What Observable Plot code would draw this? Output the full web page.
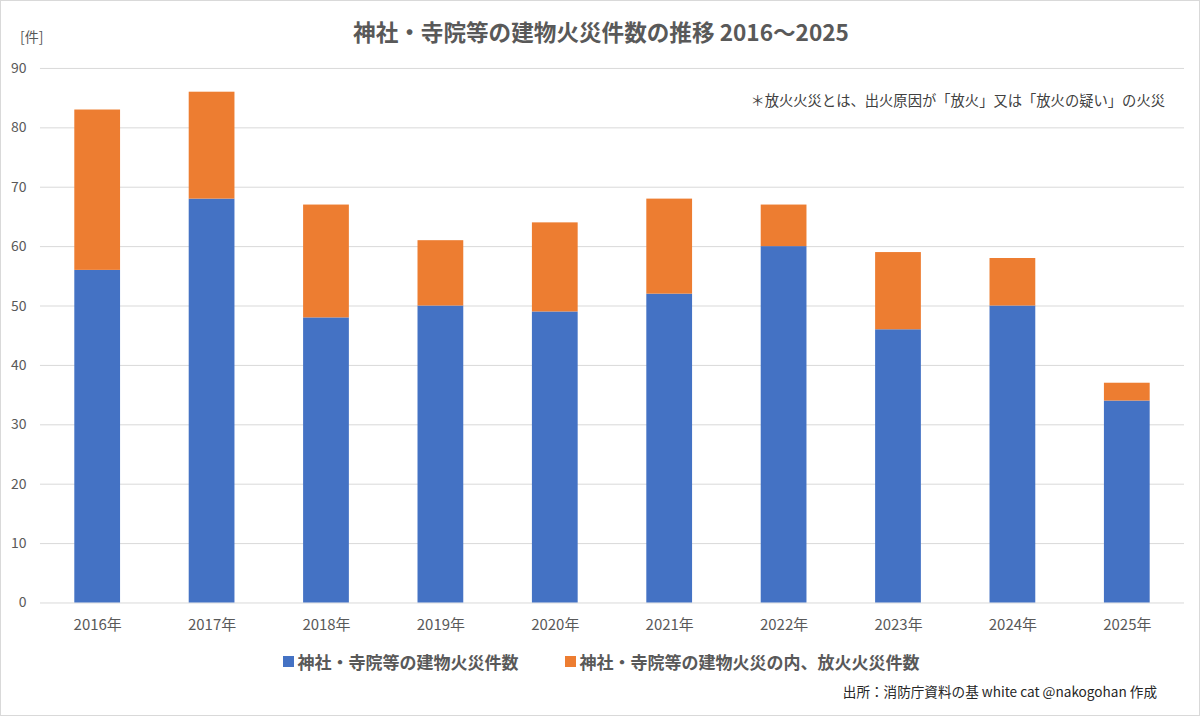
<!DOCTYPE html>
<html>
<head>
<meta charset="utf-8">
<script src="https://cdn.jsdelivr.net/npm/d3@7"></script>
<script src="https://cdn.jsdelivr.net/npm/@observablehq/plot@0.6"></script>
<style>
  html, body { margin: 0; padding: 0; background: #fff; }
  body { font-family: "Noto Sans CJK JP", "Noto Sans", sans-serif; }
  #wrap { position: relative; width: 1200px; height: 716px; box-sizing: border-box; border: 1px solid #d9d9d9; overflow: hidden; }
  #chart { position: absolute; left: -1px; top: -1px; }
  .abs { position: absolute; white-space: nowrap; }
  #title { left: 0; width: 1200px; top: 14px; text-align: center; font-size: 22.6px; font-weight: bold; color: #595959; }
  #unit { left: 19px; top: 25px; font-size: 14px; color: #595959; }
  #note { right: 34px; top: 88px; font-size: 14.3px; color: #404040; }
  #legend { left: 0; width: 1200px; top: 648px; display: flex; justify-content: center; gap: 46px; font-size: 17px; font-weight: bold; color: #595959; }
  #legend span.item { display: flex; align-items: center; }
  #legend i { display: inline-block; width: 11px; height: 11px; margin-right: 4px; }
  #source { right: 42px; top: 680px; font-size: 13.6px; color: #262626; }
</style>
</head>
<body>
<div id="wrap">
  <div id="chart"></div>
  <div id="title" class="abs">神社・寺院等の建物火災件数の推移 2016～2025</div>
  <div id="unit" class="abs">[件]</div>
  <div id="note" class="abs">＊放火火災とは、出火原因が「放火」又は「放火の疑い」の火災</div>
  <div id="legend" class="abs"></div>
  <div id="source" class="abs">出所：消防庁資料の基 white cat @nakogohan 作成</div>
</div>
<script>
const years = ["2016年","2017年","2018年","2019年","2020年","2021年","2022年","2023年","2024年","2025年"];
const fires = [56, 68, 48, 50, 49, 52, 60, 46, 50, 34];
const arson = [27, 18, 19, 11, 15, 16, 7, 13, 8, 3];
const seriesNames = ["神社・寺院等の建物火災件数", "神社・寺院等の建物火災の内、放火火災件数"];
const seriesColors = ["#4472C4", "#ED7D31"];
const yTicks = [0, 10, 20, 30, 40, 50, 60, 70, 80, 90];

const rows = [];
years.forEach((y, i) => rows.push({year: y, series: seriesNames[0], value: fires[i]}));
years.forEach((y, i) => rows.push({year: y, series: seriesNames[1], value: arson[i]}));

const chart = Plot.plot({
  width: 1200,
  height: 640,
  marginTop: 68,
  marginBottom: 37,
  marginLeft: 40,
  marginRight: 15,
  style: { fontFamily: '"Noto Sans CJK JP", "Noto Sans", sans-serif', fontSize: "14px", color: "#595959", background: "transparent" },
  x: { domain: years, paddingInner: 0.6, paddingOuter: 0.3, round: false, label: null },
  y: { domain: [0, 90], label: null },
  color: { domain: seriesNames, range: seriesColors },
  marks: [
    Plot.ruleY(yTicks, { stroke: "#d9d9d9", strokeWidth: 1 }),
    Plot.barY(rows, { x: "year", y: "value", fill: "series", order: null, inset: 0 }),
    Plot.axisY(yTicks, { tickSize: 0, tickPadding: 14, label: null, fill: "#595959" }),
    Plot.axisX({ tickSize: 0, tickPadding: 16, label: null, fill: "#595959", fontSize: 15 })
  ]
});
document.getElementById("chart").appendChild(chart);

const legend = document.getElementById("legend");
seriesNames.forEach((n, i) => {
  const s = document.createElement("span");
  s.className = "item";
  s.innerHTML = `<i style="background:${seriesColors[i]}"></i>${n}`;
  legend.appendChild(s);
});
</script>
</body>
</html>
